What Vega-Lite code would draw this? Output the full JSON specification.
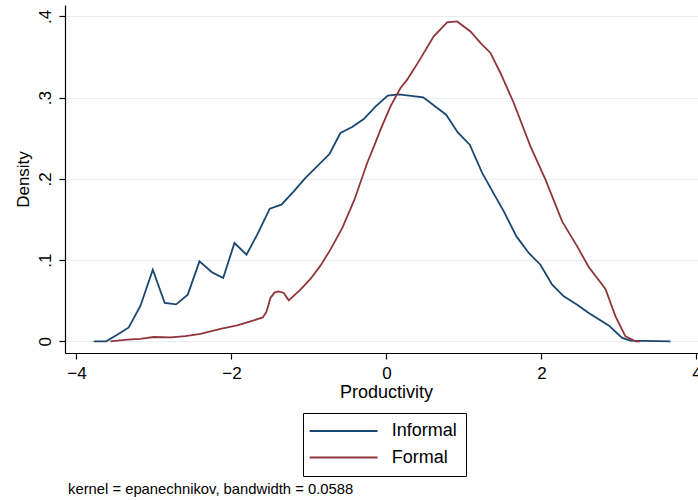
{
  "$schema": "https://vega.github.io/schema/vega-lite/v6.json",
  "width": 633,
  "height": 348,
  "autosize": {"type": "none"},
  "padding": {"left": 65, "top": 5, "right": 0, "bottom": 147},
  "background": "white",
  "title": {
    "text": "kernel = epanechnikov, bandwidth = 0.0588",
    "orient": "bottom",
    "anchor": "start",
    "frame": "group",
    "font": "Liberation Sans",
    "fontSize": 14.8,
    "fontWeight": "normal",
    "color": "black",
    "offset": 5,
    "dx": 3
  },
  "config": {"view": {"stroke": null}, "font": "Liberation Sans"},
  "data": {
    "values": [
      {"series": "Informal", "x": -3.777, "y": 0},
      {"series": "Informal", "x": -3.617, "y": 0},
      {"series": "Informal", "x": -3.475, "y": 0.0082},
      {"series": "Informal", "x": -3.325, "y": 0.0172},
      {"series": "Informal", "x": -3.174, "y": 0.0439},
      {"series": "Informal", "x": -3.015, "y": 0.0882},
      {"series": "Informal", "x": -2.861, "y": 0.0473},
      {"series": "Informal", "x": -2.714, "y": 0.0455},
      {"series": "Informal", "x": -2.564, "y": 0.0575},
      {"series": "Informal", "x": -2.413, "y": 0.0985},
      {"series": "Informal", "x": -2.249, "y": 0.0849},
      {"series": "Informal", "x": -2.107, "y": 0.078},
      {"series": "Informal", "x": -1.961, "y": 0.1211},
      {"series": "Informal", "x": -1.806, "y": 0.1067},
      {"series": "Informal", "x": -1.661, "y": 0.1326},
      {"series": "Informal", "x": -1.506, "y": 0.1633},
      {"series": "Informal", "x": -1.355, "y": 0.1682},
      {"series": "Informal", "x": -1.196, "y": 0.1846},
      {"series": "Informal", "x": -1.045, "y": 0.2011},
      {"series": "Informal", "x": -0.735, "y": 0.2306},
      {"series": "Informal", "x": -0.594, "y": 0.2565},
      {"series": "Informal", "x": -0.443, "y": 0.2639},
      {"series": "Informal", "x": -0.293, "y": 0.2737},
      {"series": "Informal", "x": -0.142, "y": 0.289},
      {"series": "Informal", "x": 0.017, "y": 0.3024},
      {"series": "Informal", "x": 0.159, "y": 0.304},
      {"series": "Informal", "x": 0.474, "y": 0.3003},
      {"series": "Informal", "x": 0.77, "y": 0.279},
      {"series": "Informal", "x": 0.92, "y": 0.2572},
      {"series": "Informal", "x": 1.075, "y": 0.2421},
      {"series": "Informal", "x": 1.235, "y": 0.2073},
      {"series": "Informal", "x": 1.428, "y": 0.1744},
      {"series": "Informal", "x": 1.514, "y": 0.16},
      {"series": "Informal", "x": 1.677, "y": 0.1292},
      {"series": "Informal", "x": 1.836, "y": 0.1088},
      {"series": "Informal", "x": 1.987, "y": 0.0944},
      {"series": "Informal", "x": 2.138, "y": 0.0698},
      {"series": "Informal", "x": 2.288, "y": 0.0554},
      {"series": "Informal", "x": 2.461, "y": 0.0452},
      {"series": "Informal", "x": 2.61, "y": 0.035},
      {"series": "Informal", "x": 2.868, "y": 0.0197},
      {"series": "Informal", "x": 3.041, "y": 0.0042},
      {"series": "Informal", "x": 3.148, "y": 0.0009},
      {"series": "Informal", "x": 3.665, "y": 0},
      {"series": "Formal", "x": -3.561, "y": 0},
      {"series": "Formal", "x": -3.346, "y": 0.0021},
      {"series": "Formal", "x": -3.174, "y": 0.003},
      {"series": "Formal", "x": -3.003, "y": 0.0054},
      {"series": "Formal", "x": -2.787, "y": 0.0049},
      {"series": "Formal", "x": -2.594, "y": 0.0064},
      {"series": "Formal", "x": -2.4, "y": 0.0091},
      {"series": "Formal", "x": -2.142, "y": 0.0153},
      {"series": "Formal", "x": -1.926, "y": 0.0197},
      {"series": "Formal", "x": -1.755, "y": 0.0246},
      {"series": "Formal", "x": -1.596, "y": 0.0295},
      {"series": "Formal", "x": -1.548, "y": 0.0366},
      {"series": "Formal", "x": -1.497, "y": 0.0534},
      {"series": "Formal", "x": -1.445, "y": 0.06},
      {"series": "Formal", "x": -1.39, "y": 0.0615},
      {"series": "Formal", "x": -1.325, "y": 0.0596},
      {"series": "Formal", "x": -1.261, "y": 0.0505},
      {"series": "Formal", "x": -1.11, "y": 0.0636},
      {"series": "Formal", "x": -0.981, "y": 0.0768},
      {"series": "Formal", "x": -0.852, "y": 0.0932},
      {"series": "Formal", "x": -0.723, "y": 0.1129},
      {"series": "Formal", "x": -0.568, "y": 0.14},
      {"series": "Formal", "x": -0.413, "y": 0.1744},
      {"series": "Formal", "x": -0.249, "y": 0.2196},
      {"series": "Formal", "x": -0.142, "y": 0.2446},
      {"series": "Formal", "x": -0.077, "y": 0.2606},
      {"series": "Formal", "x": 0.052, "y": 0.2892},
      {"series": "Formal", "x": 0.181, "y": 0.3119},
      {"series": "Formal", "x": 0.267, "y": 0.3221},
      {"series": "Formal", "x": 0.417, "y": 0.3446},
      {"series": "Formal", "x": 0.61, "y": 0.3754},
      {"series": "Formal", "x": 0.783, "y": 0.3926},
      {"series": "Formal", "x": 0.912, "y": 0.3938},
      {"series": "Formal", "x": 1.084, "y": 0.3815},
      {"series": "Formal", "x": 1.213, "y": 0.3673},
      {"series": "Formal", "x": 1.342, "y": 0.355},
      {"series": "Formal", "x": 1.471, "y": 0.3303},
      {"series": "Formal", "x": 1.643, "y": 0.2934},
      {"series": "Formal", "x": 1.858, "y": 0.24},
      {"series": "Formal", "x": 2.052, "y": 0.199},
      {"series": "Formal", "x": 2.267, "y": 0.1477},
      {"series": "Formal", "x": 2.461, "y": 0.1169},
      {"series": "Formal", "x": 2.61, "y": 0.0916},
      {"series": "Formal", "x": 2.826, "y": 0.0645},
      {"series": "Formal", "x": 2.955, "y": 0.0308},
      {"series": "Formal", "x": 3.084, "y": 0.0062},
      {"series": "Formal", "x": 3.213, "y": 0},
      {"series": "Formal", "x": 3.277, "y": 0}
    ]
  },
  "mark": {"type": "line", "strokeWidth": 1.8},
  "encoding": {
    "x": {
      "field": "x",
      "type": "quantitative",
      "scale": {"domain": [-4.148, 4.02], "nice": false, "zero": false},
      "axis": {
        "values": [-4, -2, 0, 2, 4],
        "title": "Productivity",
        "grid": false,
        "domainColor": "black",
        "domainWidth": 1.2,
        "tickColor": "black",
        "tickWidth": 1.2,
        "tickSize": 6,
        "labelFont": "Liberation Sans",
        "labelFontSize": 17,
        "labelColor": "black",
        "labelBaseline": "alphabetic",
        "labelPadding": 19,
        "labelFlush": false,
        "labelOverlap": false,
        "titleFont": "Liberation Sans",
        "titleFontSize": 18,
        "titleFontWeight": "normal",
        "titleColor": "black",
        "titleX": 321,
        "titleY": 44,
        "titleBaseline": "alphabetic",
        "titleAlign": "center"
      }
    },
    "y": {
      "field": "y",
      "type": "quantitative",
      "scale": {"domain": [-0.0143, 0.414], "nice": false, "zero": false},
      "axis": {
        "values": [0, 0.1, 0.2, 0.3, 0.4],
        "labelExpr": "datum.value == 0 ? '0' : replace(format(datum.value, '.1f'), '0.', '.')",
        "title": "Density",
        "grid": true,
        "gridColor": "#e6eef2",
        "gridWidth": 1.2,
        "domainColor": "black",
        "domainWidth": 1.2,
        "tickColor": "black",
        "tickWidth": 1.2,
        "tickSize": 6,
        "labelFont": "Liberation Sans",
        "labelFontSize": 17,
        "labelColor": "black",
        "labelAngle": 270,
        "labelAlign": "center",
        "labelBaseline": "alphabetic",
        "labelPadding": 9,
        "labelFlush": false,
        "labelOverlap": false,
        "titleFont": "Liberation Sans",
        "titleFontSize": 17,
        "titleFontWeight": "normal",
        "titleColor": "black",
        "titleAngle": 270,
        "titleX": -37,
        "titleBaseline": "alphabetic",
        "titleAlign": "center"
      }
    },
    "color": {
      "field": "series",
      "type": "nominal",
      "scale": {"domain": ["Informal", "Formal"], "range": ["#1a476f", "#90353b"]},
      "legend": {
        "title": null,
        "orient": "none",
        "legendX": 238,
        "legendY": 408,
        "direction": "vertical",
        "symbolType": "M-2,0H10",
        "symbolSize": 128,
        "symbolStrokeWidth": 2,
        "labelFont": "Liberation Sans",
        "labelFontSize": 18,
        "labelColor": "black",
        "labelOffset": 61.7,
        "labelLimit": 300,
        "strokeColor": "black",
        "fillColor": "white",
        "padding": 9,
        "rowPadding": 8.5
      }
    }
  }
}
